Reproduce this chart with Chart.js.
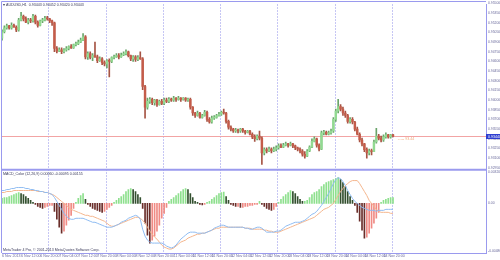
<!DOCTYPE html>
<html>
<head>
<meta charset="utf-8">
<script src="https://cdn.jsdelivr.net/npm/chart.js@4.4.1/dist/chart.umd.min.js"></script>
<style>
  html, body { margin: 0; padding: 0; background: #fff; }
</style>
</head>
<body>
<canvas id="myChart" width="500" height="260" style="width:500px;height:260px;display:block"></canvas>
<script>
// AUDUSD H1, 6 Nov 04:00 .. 15 Nov 00:00
const open = [
  0.9496,0.9506,0.9512,0.9515,0.9512,0.9516,0.9513,0.9509,0.9524,0.9530,
  0.9526,0.9521,0.9524,0.9523,0.9530,0.9521,0.9516,0.9523,0.9524,0.9527,
  0.9526,0.9523,0.9520,0.9480,0.9476,0.9478,0.9475,0.9478,0.9480,0.9483,
  0.9481,0.9486,0.9487,0.9490,0.9493,0.9498,0.9467,0.9472,0.9466,0.9469,
  0.9467,0.9461,0.9464,0.9458,0.9456,0.9461,0.9460,0.9466,0.9467,0.9469,
  0.9467,0.9470,0.9472,0.9475,0.9469,0.9464,0.9467,0.9463,0.9466,0.9464,
  0.9421,0.9389,0.9398,0.9401,0.9396,0.9400,0.9393,0.9398,0.9395,0.9400,
  0.9398,0.9401,0.9400,0.9403,0.9401,0.9403,0.9401,0.9403,0.9400,0.9401,
  0.9389,0.9380,0.9376,0.9380,0.9373,0.9376,0.9381,0.9370,0.9366,0.9372,
  0.9373,0.9376,0.9378,0.9381,0.9380,0.9367,0.9358,0.9355,0.9352,0.9353,
  0.9352,0.9355,0.9352,0.9350,0.9352,0.9347,0.9343,0.9340,0.9344,0.9341,
  0.9318,0.9323,0.9321,0.9324,0.9321,0.9324,0.9326,0.9329,0.9327,0.9330,
  0.9332,0.9330,0.9332,0.9329,0.9326,0.9324,0.9321,0.9316,0.9313,0.9321,
  0.9327,0.9336,0.9340,0.9330,0.9324,0.9349,0.9350,0.9347,0.9349,0.9352,
  0.9370,0.9383,0.9390,0.9386,0.9380,0.9376,0.9367,0.9370,0.9366,0.9355,
  0.9347,0.9338,0.9332,0.9323,0.9318,0.9321,0.9320,0.9335,0.9344,0.9341,
  0.9338,0.9343,0.9346,0.9343,0.9346
];
const high = [
  0.9509,0.9515,0.9518,0.9516,0.9520,0.9518,0.9515,0.9527,0.9536,0.9532,
  0.9529,0.9527,0.9527,0.9533,0.9532,0.9523,0.9524,0.9527,0.9530,0.9530,
  0.9527,0.9524,0.9521,0.9483,0.9481,0.9481,0.9480,0.9483,0.9484,0.9486,
  0.9487,0.9490,0.9493,0.9496,0.9503,0.9500,0.9475,0.9475,0.9472,0.9490,
  0.9470,0.9467,0.9466,0.9461,0.9463,0.9464,0.9467,0.9470,0.9472,0.9472,
  0.9473,0.9475,0.9478,0.9476,0.9470,0.9469,0.9469,0.9469,0.9475,0.9466,
  0.9423,0.9403,0.9404,0.9403,0.9401,0.9401,0.9400,0.9401,0.9403,0.9403,
  0.9404,0.9403,0.9406,0.9404,0.9406,0.9404,0.9404,0.9404,0.9403,0.9403,
  0.9390,0.9381,0.9383,0.9381,0.9378,0.9384,0.9383,0.9373,0.9375,0.9376,
  0.9378,0.9381,0.9383,0.9386,0.9381,0.9369,0.9360,0.9356,0.9356,0.9355,
  0.9356,0.9356,0.9353,0.9353,0.9353,0.9349,0.9346,0.9346,0.9352,0.9343,
  0.9326,0.9326,0.9327,0.9326,0.9327,0.9329,0.9332,0.9332,0.9333,0.9335,
  0.9333,0.9335,0.9333,0.9330,0.9327,0.9326,0.9323,0.9320,0.9323,0.9329,
  0.9340,0.9343,0.9341,0.9332,0.9352,0.9353,0.9352,0.9352,0.9355,0.9373,
  0.9386,0.9401,0.9393,0.9389,0.9383,0.9378,0.9373,0.9373,0.9367,0.9358,
  0.9349,0.9341,0.9333,0.9326,0.9324,0.9324,0.9338,0.9356,0.9347,0.9344,
  0.9346,0.9349,0.9347,0.9347,0.9347
];
const low = [
  0.9493,0.9504,0.9510,0.9510,0.9510,0.9513,0.9506,0.9507,0.9523,0.9523,
  0.9520,0.9518,0.9520,0.9521,0.9518,0.9513,0.9515,0.9520,0.9523,0.9524,
  0.9520,0.9516,0.9475,0.9473,0.9475,0.9472,0.9473,0.9476,0.9478,0.9480,
  0.9480,0.9484,0.9486,0.9489,0.9492,0.9464,0.9463,0.9464,0.9461,0.9466,
  0.9458,0.9460,0.9455,0.9453,0.9450,0.9436,0.9458,0.9464,0.9466,0.9464,
  0.9466,0.9469,0.9470,0.9467,0.9461,0.9460,0.9460,0.9461,0.9463,0.9416,
  0.9372,0.9386,0.9395,0.9393,0.9392,0.9390,0.9392,0.9393,0.9393,0.9396,
  0.9396,0.9398,0.9398,0.9398,0.9400,0.9398,0.9400,0.9398,0.9398,0.9386,
  0.9376,0.9373,0.9375,0.9372,0.9372,0.9375,0.9367,0.9364,0.9364,0.9370,
  0.9372,0.9375,0.9376,0.9378,0.9364,0.9355,0.9352,0.9350,0.9350,0.9349,
  0.9350,0.9350,0.9347,0.9349,0.9346,0.9340,0.9336,0.9338,0.9338,0.9300,
  0.9315,0.9318,0.9320,0.9318,0.9320,0.9321,0.9324,0.9326,0.9326,0.9329,
  0.9327,0.9329,0.9326,0.9323,0.9321,0.9318,0.9313,0.9310,0.9312,0.9320,
  0.9326,0.9335,0.9327,0.9321,0.9323,0.9346,0.9346,0.9346,0.9347,0.9350,
  0.9367,0.9380,0.9383,0.9376,0.9373,0.9364,0.9364,0.9363,0.9352,0.9346,
  0.9335,0.9329,0.9320,0.9310,0.9315,0.9315,0.9320,0.9333,0.9338,0.9335,
  0.9336,0.9341,0.9341,0.9341,0.9343
];
const close = [
  0.9506,0.9512,0.9515,0.9512,0.9516,0.9513,0.9509,0.9524,0.9530,0.9526,
  0.9521,0.9524,0.9523,0.9530,0.9521,0.9516,0.9523,0.9524,0.9527,0.9526,
  0.9523,0.9520,0.9480,0.9476,0.9478,0.9475,0.9478,0.9480,0.9483,0.9481,
  0.9486,0.9487,0.9490,0.9493,0.9498,0.9467,0.9472,0.9466,0.9469,0.9467,
  0.9461,0.9464,0.9458,0.9456,0.9461,0.9460,0.9466,0.9467,0.9469,0.9467,
  0.9470,0.9472,0.9475,0.9469,0.9464,0.9467,0.9463,0.9466,0.9464,0.9421,
  0.9389,0.9398,0.9401,0.9396,0.9400,0.9393,0.9398,0.9395,0.9400,0.9398,
  0.9401,0.9400,0.9403,0.9401,0.9403,0.9401,0.9403,0.9400,0.9401,0.9389,
  0.9380,0.9376,0.9380,0.9373,0.9376,0.9381,0.9370,0.9366,0.9372,0.9373,
  0.9376,0.9378,0.9381,0.9380,0.9367,0.9358,0.9355,0.9352,0.9353,0.9352,
  0.9355,0.9352,0.9350,0.9352,0.9347,0.9343,0.9340,0.9344,0.9341,0.9318,
  0.9323,0.9321,0.9324,0.9321,0.9324,0.9326,0.9329,0.9327,0.9330,0.9332,
  0.9330,0.9332,0.9329,0.9326,0.9324,0.9321,0.9316,0.9313,0.9321,0.9327,
  0.9336,0.9340,0.9330,0.9324,0.9349,0.9350,0.9347,0.9349,0.9352,0.9370,
  0.9383,0.9390,0.9386,0.9380,0.9376,0.9367,0.9370,0.9366,0.9355,0.9347,
  0.9338,0.9332,0.9323,0.9318,0.9321,0.9320,0.9335,0.9344,0.9341,0.9338,
  0.9343,0.9346,0.9343,0.9346,0.9344
];

// MACD window: histogram, main line, signal line
const macdHist = [
  0.0005,0.0006,0.0006,0.0007,0.0008,0.0009,0.0010,0.0011,0.0010,0.0009,
  0.0007,0.0005,0.0003,0.0001,-0.0001,-0.0003,-0.0004,-0.0005,-0.0004,-0.0003,
  -0.0002,-0.0002,-0.0008,-0.0016,-0.0024,-0.0030,-0.0028,-0.0022,-0.0017,-0.0012,
  -0.0005,0.0001,0.0005,0.0008,0.0010,0.0004,-0.0001,-0.0003,-0.0005,-0.0006,
  -0.0007,-0.0008,-0.0009,-0.0008,-0.0006,-0.0004,-0.0002,0.0001,0.0003,0.0005,
  0.0007,0.0009,0.0012,0.0014,0.0015,0.0014,0.0012,0.0009,0.0006,-0.0005,
  -0.0020,-0.0032,-0.0040,-0.0037,-0.0033,-0.0028,-0.0022,-0.0015,-0.0010,-0.0004,
  0.0002,0.0004,0.0006,0.0008,0.0010,0.0012,0.0014,0.0015,0.0014,0.0010,
  0.0006,0.0002,0.0001,-0.0001,-0.00015,-0.0001,0.0001,0.0002,0.0004,0.0006,
  0.0008,0.0010,0.0011,0.00115,0.0007,0.0003,-0.0001,-0.0002,-0.0003,-0.0003,
  -0.0004,-0.0004,-0.0003,-0.0003,-0.0002,-0.0002,-0.0001,-0.0001,0.0002,-0.0001,
  -0.0003,-0.0005,-0.0006,-0.0007,-0.0006,-0.0003,0.0001,0.0004,0.0007,0.0009,
  0.0011,0.0013,0.0012,0.0010,0.0007,0.0004,0.0002,0.0002,0.0003,0.0006,
  0.0009,0.0011,0.0012,0.0014,0.0017,0.0019,0.0021,0.0022,0.0023,0.0024,
  0.0025,0.0026,0.0024,0.0021,0.0017,0.0012,0.0007,0.0003,-0.0002,-0.0009,
  -0.0018,-0.0027,-0.0035,-0.0034,-0.0030,-0.0025,-0.0020,-0.0015,-0.0009,0.0001,
  0.0003,0.0004,0.0005,0.0006,0.0006
];
const macdMain = [
  0.0013,0.0013,0.0014,0.0014,0.0015,0.0015,0.0016,0.0016,0.0016,0.0016,
  0.0015,0.0015,0.0014,0.0014,0.0013,0.0013,0.0012,0.0012,0.0011,0.0011,
  0.0010,0.0009,0.0006,0.0002,-0.0002,-0.0006,-0.0010,-0.0013,-0.0015,-0.0016,
  -0.0016,-0.0015,-0.0015,-0.0015,-0.0015,-0.0016,-0.0017,-0.0018,-0.0019,-0.0019,
  -0.0020,-0.0021,-0.0022,-0.0023,-0.0024,-0.0024,-0.0024,-0.0023,-0.0022,-0.0021,
  -0.0019,-0.0018,-0.0017,-0.0015,-0.0014,-0.0013,-0.0012,-0.0013,-0.0016,-0.0026,
  -0.0033,-0.0037,-0.0039,-0.0040,-0.0040,-0.0040,-0.0040,-0.0040,-0.0041,-0.0043,
  -0.0044,-0.0045,-0.0044,-0.0042,-0.0039,-0.0036,-0.0034,-0.0032,-0.0030,-0.0029,
  -0.0029,-0.0029,-0.0030,-0.0030,-0.0030,-0.0030,-0.0029,-0.0028,-0.0027,-0.0025,
  -0.0024,-0.0023,-0.0022,-0.0022,-0.0023,-0.0024,-0.0024,-0.0024,-0.0024,-0.0024,
  -0.0024,-0.0024,-0.0025,-0.0025,-0.0026,-0.0026,-0.0025,-0.0024,-0.0024,-0.0025,
  -0.0027,-0.0029,-0.0029,-0.0029,-0.0029,-0.0028,-0.0028,-0.0027,-0.0025,-0.0023,
  -0.0022,-0.0021,-0.0020,-0.0019,-0.0019,-0.0019,-0.0018,-0.0017,-0.0015,-0.0013,
  -0.0011,-0.0010,-0.0008,-0.0005,-0.0002,0.0002,0.0006,0.0010,0.0015,0.0020,
  0.0024,0.0026,0.0025,0.0022,0.0018,0.0013,0.0009,0.0005,0.0002,0.0000,
  -0.0002,-0.0004,-0.0005,-0.0006,-0.0007,-0.0007,-0.0007,-0.0008,-0.0007,-0.0007,
  -0.0007,-0.0006,-0.0006,-0.0006,-0.0006
];
const macdSignal = [
  0.0011,0.0011,0.0012,0.0012,0.0012,0.0013,0.0013,0.0013,0.0013,0.0013,
  0.0013,0.0013,0.0013,0.0013,0.0013,0.0012,0.0012,0.0012,0.0011,0.0011,
  0.0010,0.0009,0.0008,0.0006,0.0004,0.0002,0.0000,-0.0002,-0.0004,-0.0006,
  -0.0007,-0.0008,-0.0009,-0.0010,-0.0011,-0.0012,-0.0012,-0.0013,-0.0013,-0.0014,
  -0.0015,-0.0016,-0.0017,-0.0018,-0.0020,-0.0022,-0.0023,-0.0023,-0.0022,-0.0021,
  -0.0020,-0.0019,-0.0018,-0.0017,-0.0016,-0.0015,-0.0014,-0.0014,-0.0015,-0.0017,
  -0.0020,-0.0024,-0.0028,-0.0031,-0.0034,-0.0036,-0.0039,-0.0042,-0.0044,-0.0045,
  -0.0046,-0.0046,-0.0045,-0.0043,-0.0041,-0.0039,-0.0038,-0.0037,-0.0035,-0.0034,
  -0.0033,-0.0032,-0.0031,-0.0031,-0.0030,-0.0030,-0.0029,-0.0028,-0.0027,-0.0026,
  -0.0025,-0.0025,-0.0024,-0.0024,-0.0024,-0.0024,-0.0024,-0.0024,-0.0024,-0.0024,
  -0.0024,-0.0024,-0.0025,-0.0025,-0.0025,-0.0026,-0.0026,-0.0026,-0.0026,-0.0026,
  -0.0027,-0.0027,-0.0028,-0.0028,-0.0029,-0.0029,-0.0029,-0.0028,-0.0027,-0.0026,
  -0.0025,-0.0024,-0.0023,-0.0022,-0.0021,-0.0020,-0.0019,-0.0018,-0.0017,-0.0016,
  -0.0015,-0.0014,-0.0012,-0.0010,-0.0008,-0.0006,-0.0005,-0.0004,-0.0002,0.0000,
  0.0004,0.0008,0.0012,0.0015,0.0018,0.0020,0.0022,0.0023,0.0023,0.0023,
  0.0020,0.0016,0.0012,0.0008,0.0003,0.0000,-0.0003,-0.0006,-0.0008,-0.0009,
  -0.0009,-0.0009,-0.0009,-0.0010,-0.0010
];

// time axis labels, one every 8 bars
const timeLabels = [
  '6 Nov 2013', '6 Nov 12:00', '6 Nov 20:00', '7 Nov 04:00', '7 Nov 12:00', '7 Nov 20:00',
  '8 Nov 04:00', '8 Nov 12:00', '8 Nov 20:00', '11 Nov 04:00', '11 Nov 12:00', '11 Nov 20:00',
  '12 Nov 04:00', '12 Nov 12:00', '12 Nov 20:00', '13 Nov 04:00', '13 Nov 12:00', '13 Nov 20:00',
  '14 Nov 04:00', '14 Nov 12:00', '14 Nov 20:00'
];
const dayStarts = [20, 44, 68, 92, 116, 140, 164];
const priceTicks = [
  0.9295, 0.9310, 0.9325, 0.9340, 0.9355, 0.9370, 0.9385, 0.9400, 0.9415,
  0.9430, 0.9445, 0.9460, 0.9475, 0.9490, 0.9505, 0.9520, 0.9535, 0.9550
];
const macdTicks = [0.0032, 0, -0.0048];

const slots = 204; // bars that fit in the window, chart is shifted
const labelStep = 8;
const slotLabels = [];
for (let i = 0; i < slots; i++) {
  slotLabels.push(i % labelStep === 0 && timeLabels[i / labelStep] ? timeLabels[i / labelStep] : '');
}

const frameColor = '#9a9aee';
const axisText = '#6a6a9c';
const lastPrice = close[close.length - 1];

const isUp = open.map((o, i) => close[i] >= o);
const histColors = macdHist.map((v, i) => {
  const rising = i === 0 || v >= macdHist[i - 1];
  if (v >= 0) return rising ? '#8ee08e' : '#33502f';
  return rising ? '#f08a84' : '#6a2e2a';
});

Chart.defaults.font.family = '"Liberation Sans", Arial, sans-serif';

const overlay = {
  id: 'overlay',
  beforeDatasetsDraw(chart) {
    const { ctx, chartArea: a, scales: { x, y } } = chart;
    ctx.save();
    ctx.strokeStyle = '#c6c6f4';
    ctx.lineWidth = 1;
    ctx.setLineDash([2, 1]);
    dayStarts.forEach(i => {
      const px = Math.round((x.getPixelForValue(i - 1) + x.getPixelForValue(i)) / 2) + 0.5;
      ctx.beginPath();
      ctx.moveTo(px, a.top);
      ctx.lineTo(px, a.bottom);
      ctx.stroke();
    });
    ctx.setLineDash([]);
    const py = Math.round(y.getPixelForValue(lastPrice)) + 0.5;
    ctx.strokeStyle = '#f2a4a4';
    ctx.beginPath();
    ctx.moveTo(a.left, py);
    ctx.lineTo(a.right, py);
    ctx.stroke();
    ctx.restore();
  },
  afterDraw(chart) {
    const { ctx, chartArea: a, scales: { x, y } } = chart;
    ctx.save();
    // frame
    ctx.strokeStyle = frameColor;
    ctx.lineWidth = 1;
    ctx.beginPath();
    ctx.moveTo(1.5, 1.5);
    ctx.lineTo(a.right, 1.5);
    ctx.moveTo(1.5, 1.5);
    ctx.lineTo(1.5, a.bottom);
    ctx.stroke();
    ctx.lineWidth = 2;
    ctx.beginPath();
    ctx.moveTo(1, y.bottom);
    ctx.lineTo(a.right, y.bottom);
    ctx.stroke();

    // texts
    ctx.textBaseline = 'middle';
    ctx.textAlign = 'left';
    ctx.fillStyle = '#3a3a5a';
    ctx.font = '3.6px "Liberation Sans"';
    ctx.fillText('\u25BE AUDUSD,H1  0.93443 0.93452 0.93420 0.93443', 3, 5);
    ctx.fillText('MACD_Color (12,26,9) 0.00060 -0.00095 0.00155', 3, y.bottom + 4);
    ctx.fillText('MetaTrader 4 Pro, \u00A9 2001-2013 MetaQuotes Software Corp.', 3, a.bottom - 3.5);

    // price tag
    const py = Math.round(y.getPixelForValue(lastPrice)) + 0.5;
    const lastX = x.getPixelForValue(close.length - 1);
    ctx.fillStyle = '#f0a878';
    ctx.fillText('\u2190--- 93.44', lastX + 4, py + 2);
    ctx.fillStyle = '#2f3fd0';
    ctx.fillRect(a.right, py - 2.5, 500 - a.right, 5);
    ctx.fillStyle = '#ffffff';
    ctx.fillText(lastPrice.toFixed(5), a.right + 2, py);
    ctx.restore();
  }
};

new Chart(document.getElementById('myChart'), {
  type: 'bar',
  data: {
    labels: slotLabels,
    datasets: [
      {
        type: 'line',
        data: macdMain,
        yAxisID: 'y2',
        borderColor: '#8fbcf2',
        borderWidth: 1,
        pointRadius: 0,
        order: 0
      },
      {
        type: 'line',
        data: macdSignal,
        yAxisID: 'y2',
        borderColor: '#f4b68e',
        borderWidth: 1,
        pointRadius: 0,
        order: 0
      },
      {
        data: open.map((o, i) => [o, close[i]]),
        yAxisID: 'y',
        backgroundColor: isUp.map(u => u ? '#92da92' : '#c45c4a'),
        barThickness: 1.8,
        minBarLength: 1,
        grouped: false,
        order: 1
      },
      {
        data: low.map((l, i) => [l, high[i]]),
        yAxisID: 'y',
        backgroundColor: isUp.map(u => u ? '#6aa46a' : '#a65444'),
        barThickness: 1,
        grouped: false,
        order: 2
      },
      {
        data: macdHist,
        yAxisID: 'y2',
        backgroundColor: histColors,
        barThickness: 1,
        grouped: false,
        order: 3
      }
    ]
  },
  options: {
    responsive: false,
    animation: false,
    devicePixelRatio: 1,
    layout: { padding: { left: 2, top: 2, right: 0, bottom: 0 } },
    plugins: {
      legend: { display: false },
      tooltip: { enabled: false }
    },
    scales: {
      x: {
        type: 'category',
        offset: false,
        grid: { display: false, drawTicks: false },
        border: { color: frameColor },
        ticks: {
          autoSkip: false,
          maxRotation: 0,
          align: 'start',
          padding: 1,
          color: axisText,
          font: { size: 3.6 }
        },
        afterFit(s) { s.height = 7; }
      },
      y: {
        position: 'right',
        stack: 'pane',
        stackWeight: 167,
        min: 0.9292,
        max: 0.9549,
        grid: { display: false, drawTicks: false },
        border: { color: frameColor },
        ticks: {
          autoSkip: false,
          padding: 2,
          color: axisText,
          font: { size: 3.4 },
          callback: v => v.toFixed(5)
        },
        afterBuildTicks(s) { s.ticks = priceTicks.map(v => ({ value: v })); },
        afterFit(s) { s.width = 14; }
      },
      y2: {
        position: 'right',
        stack: 'pane',
        stackWeight: 84,
        min: -0.0050,
        max: 0.0034,
        grid: { display: false, drawTicks: false },
        border: { color: frameColor },
        ticks: {
          autoSkip: false,
          padding: 2,
          color: axisText,
          font: { size: 3.4 },
          callback: v => v === 0 ? '0.00' : v.toFixed(6)
        },
        afterBuildTicks(s) { s.ticks = macdTicks.map(v => ({ value: v })); },
        afterFit(s) { s.width = 14; }
      }
    }
  },
  plugins: [overlay]
});
</script>
</body>
</html>
